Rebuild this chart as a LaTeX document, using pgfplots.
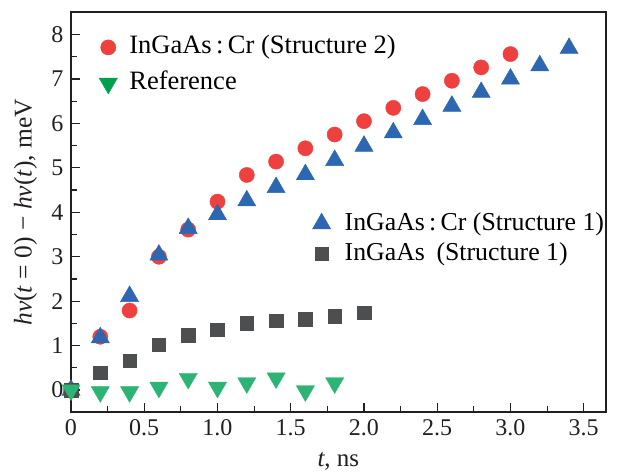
\documentclass[border=0pt]{standalone}
\usepackage{fontspec}
\setmainfont{Liberation Serif}
\usepackage{pgfplots}
\pgfplotsset{compat=1.18}
\definecolor{cred}{HTML}{EF4040}
\definecolor{cblue}{HTML}{2D67B2}
\definecolor{cgray}{HTML}{4D4E50}
\definecolor{cgreen}{HTML}{2DB474}
\definecolor{cgreenleg}{HTML}{00A04F}
\definecolor{cframe}{HTML}{231F20}
\pgfplotsset{
  mylegend/.style={
    legend image code/.code={\draw[##1] plot coordinates {(0pt,0pt)};},
    legend cell align=left,
    legend style={draw=none, fill=none, inner sep=0pt, outer sep=0pt,
      font=\fontsize{26.5}{27}\selectfont, column sep=12pt,
      nodes={inner sep=0pt, text height=20pt, text depth=7pt}},
  },
  base/.style={
    scale only axis, width=534.7pt, height=400pt,
    xmin=0, xmax=3.65, ymin=-0.5, ymax=8.5,
  }
}
\begin{document}
\begin{tikzpicture}
\begin{axis}[base, mylegend,
  axis line style={line width=1.8pt, cframe},
  tick align=inside,
  xtick pos=left, ytick pos=left,
  xtick={0,0.5,1,1.5,2,2.5,3,3.5},
  xticklabels={0,0.5,1.0,1.5,2.0,2.5,3.0,3.5},
  ytick={0,1,2,3,4,5,6,7,8},
  minor x tick num=1, minor y tick num=1,
  major tick length=9pt, minor tick length=6pt,
  every tick/.style={cframe, line width=1.2pt},
  tick label style={font=\fontsize{24}{24}\selectfont, text=cframe},
  xticklabel style={yshift=-4pt},
  yticklabel style={xshift=-4pt},
  /pgf/number format/assume math mode=true,
  xlabel={\textit{t}, ns},
  xlabel style={at={(axis description cs:0.5,0)}, anchor=base, yshift=-54pt, font=\fontsize{25}{26}\selectfont, text=cframe},
  ylabel={\textit{hν}(\textit{t} = 0) − \textit{hν}(\textit{t}), meV},
  ylabel style={at={(axis description cs:-0.085,0.5)}, anchor=center, font=\fontsize{25.5}{26}\selectfont, text=cframe},
  legend style={at={(axis description cs:0.0527,0.946)}, anchor=north west, row sep=9pt},
]
\addlegendimage{only marks, mark=*, mark size=7.6pt, color=cred}
\addlegendentry{InGaAs\,:\,Cr (Structure 2)}
\addlegendimage{only marks, mark=triangle*, mark options={rotate=180}, mark size=10.5pt, color=cgreenleg}
\addlegendentry{Reference}
\addplot[only marks, mark=*, mark size=7.6pt, color=cred, forget plot] coordinates {
(0,0) (0.2,1.2) (0.4,1.79) (0.6,3.0) (0.8,3.61) (1.0,4.24) (1.2,4.84) (1.4,5.14)
(1.6,5.44) (1.8,5.75) (2.0,6.05) (2.2,6.35) (2.4,6.66) (2.6,6.96) (2.8,7.26) (3.0,7.56)};
\addplot[only marks, mark=triangle*, mark size=10.5pt, color=cblue, forget plot] coordinates {
(0,0) (0.2,1.18) (0.4,2.11) (0.6,3.04) (0.8,3.64) (1.0,3.95) (1.2,4.26) (1.4,4.56)
(1.6,4.85) (1.8,5.17) (2.0,5.49) (2.2,5.79) (2.4,6.09) (2.6,6.39) (2.8,6.70) (3.0,7.00)
(3.2,7.30) (3.4,7.69)};
\addplot[only marks, mark=square*, mark size=6.8pt, color=cgray, forget plot] coordinates {
(0,0) (0.2,0.39) (0.4,0.66) (0.6,1.02) (0.8,1.23) (1.0,1.36) (1.2,1.51) (1.4,1.56)
(1.6,1.60) (1.8,1.66) (2.0,1.74)};
\addplot[only marks, mark=triangle*, mark options={rotate=180}, mark size=10.5pt, color=cgreen, forget plot] coordinates {
(0,0) (0.2,-0.04) (0.4,-0.04) (0.6,0.06) (0.8,0.26) (1.0,0.06) (1.2,0.16) (1.4,0.27)
(1.6,-0.02) (1.8,0.16)};
\end{axis}
\begin{axis}[base, mylegend, hide axis,
  legend style={at={(axis description cs:0.4517,0.5055)}, anchor=north west, row sep=3pt, column sep=14pt, font=\fontsize{25.8}{26}\selectfont},
]
\addlegendimage{only marks, mark=triangle*, mark size=10.5pt, color=cblue}
\addlegendentry{InGaAs\,:\,Cr (Structure 1)}
\addlegendimage{only marks, mark=square*, mark size=6.8pt, color=cgray}
\addlegendentry{InGaAs\hspace{0.45em}(Structure 1)}
\end{axis}
\pgfresetboundingbox
\useasboundingbox (-71pt,-59.7pt) rectangle (551pt,412.3pt);
\end{tikzpicture}
\end{document}
